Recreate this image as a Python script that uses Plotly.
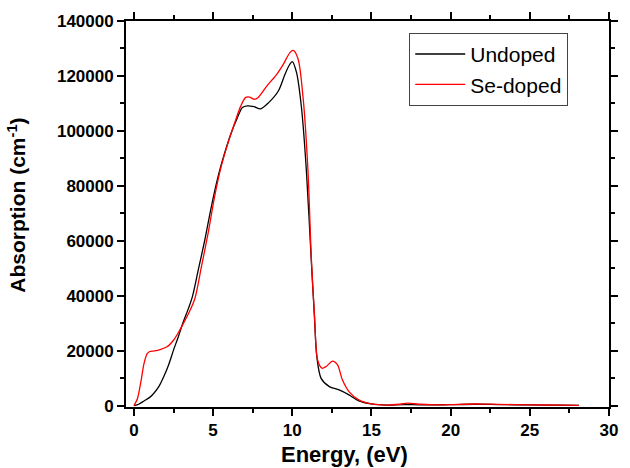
import plotly.graph_objects as go

# Undoped (black)
energy_undoped = [0, 0.3, 0.64, 1.0, 1.26, 1.6, 1.88, 2.2, 2.5, 2.8, 3.12, 3.45, 3.69, 4.06, 4.47,
                  4.88, 5.3, 5.71, 6.12, 6.54, 6.85, 7.16, 7.58, 7.99, 8.51, 9.13, 9.54, 9.8,
                  10.0, 10.27, 10.58, 10.89, 11.2, 11.4, 11.55, 11.82, 12.34, 12.96, 13.58, 14.2,
                  15.0, 16.0, 17.0, 18.0, 19.0, 20.0, 21.5, 23.0, 25.0, 27.0, 28.1]
abs_undoped = [0, 500, 1700, 3000, 4500, 7200, 10500, 15000, 20200, 25000, 30500, 35500, 39600, 49300, 60100,
               72200, 83100, 91600, 98900, 104900, 108500, 109100, 108800, 108000, 110300, 114600, 120600, 123800,
               125200, 121200, 108500, 85600, 52900, 32300, 17800, 9900, 6900, 5700, 3900, 1700,
               600, 200, 400, 300, 250, 350, 500, 400, 250, 150, 100]

# Se-doped (red)
energy_se = [0, 0.22, 0.45, 0.64, 0.85, 1.0, 1.3, 1.7, 2.09, 2.5, 2.8, 3.12, 3.45, 3.85, 4.26, 4.68,
             5.09, 5.5, 5.92, 6.34, 6.75, 7.06, 7.3, 7.6, 7.85, 8.4, 9.02, 9.44, 9.85, 10.06, 10.37,
             10.68, 10.99, 11.2, 11.4, 11.6, 11.88, 12.13, 12.55, 12.86, 13.17, 13.58, 14.2, 15.0, 16.0,
             16.8, 17.3, 18.0, 19.0, 20.0, 21.5, 23.0, 25.0, 27.0, 28.1]
abs_se = [0, 2500, 9000, 15400, 19000, 19700, 19900, 20500, 21400, 23800, 26500, 29900, 33500, 39000, 50500, 62600,
          75900, 86800, 95200, 102500, 109100, 112200, 112300, 111500, 112200, 116400, 120600, 124300, 128500, 129300, 126100,
          112200, 85600, 54000, 33000, 16600, 13600, 14200, 16200, 14800, 9300, 5100, 2100, 600, 200,
          500, 900, 500, 300, 400, 600, 450, 300, 150, 100]

series_names = ["Undoped", "Se-doped"]
x_ticks = [0, 5, 10, 15, 20, 25, 30]
y_ticks = [0, 20000, 40000, 60000, 80000, 100000, 120000, 140000]
x_title = "Energy, (eV)"
y_title = "Absorption (cm<sup>-1</sup>)"

FONT = "Liberation Sans, Arial, sans-serif"

fig = go.Figure()
fig.add_trace(go.Scatter(x=energy_undoped, y=abs_undoped, mode="lines", name=series_names[0],
                         line=dict(color="black", width=1.3, shape="spline", smoothing=0.8)))
fig.add_trace(go.Scatter(x=energy_se, y=abs_se, mode="lines", name=series_names[1],
                         line=dict(color="#ff0000", width=1.3, shape="spline", smoothing=0.8)))

axis_common = dict(
    showline=True, linecolor="black", linewidth=1.8, mirror="ticks",
    ticks="outside", ticklen=7, tickwidth=1.5, tickcolor="black",
    showgrid=False, zeroline=False,
    tickfont=dict(family=FONT, size=17, color="black", weight="bold"),
)

fig.update_xaxes(
    range=[-0.5, 30], tickvals=x_ticks, ticktext=[str(v) for v in x_ticks],
    minor=dict(ticks="outside", ticklen=4, tickwidth=1.5, tickcolor="black", dtick=2.5, tick0=0),
    **axis_common,
)
fig.update_yaxes(
    range=[-500, 140000], tickvals=y_ticks, ticktext=[str(v) for v in y_ticks],
    minor=dict(ticks="outside", ticklen=4, tickwidth=1.5, tickcolor="black", dtick=10000, tick0=0),
    **axis_common,
)

# axis titles as annotations for exact placement
fig.add_annotation(text=x_title, xref="paper", yref="paper", x=0.452, y=-0.085,
                   xanchor="center", yanchor="top", showarrow=False,
                   font=dict(family=FONT, size=22, color="black", weight="bold"))
fig.add_annotation(text=y_title, xref="paper", yref="paper", x=-0.2275, y=0.522,
                   xanchor="center", yanchor="middle", textangle=-90, showarrow=False,
                   font=dict(family=FONT, size=21, color="black", weight="bold"))

fig.update_layout(
    width=630, height=468,
    margin=dict(l=126, r=12, t=20, b=61),
    paper_bgcolor="white", plot_bgcolor="white",
    showlegend=True,
    legend=dict(
        x=0.751, y=0.8747, xanchor="center", yanchor="middle",
        bgcolor="rgba(255,255,255,0)", bordercolor="#444", borderwidth=1,
        font=dict(family=FONT, size=21, color="black"),
        itemwidth=50,
    ),
)

fig.write_html("out.html")
